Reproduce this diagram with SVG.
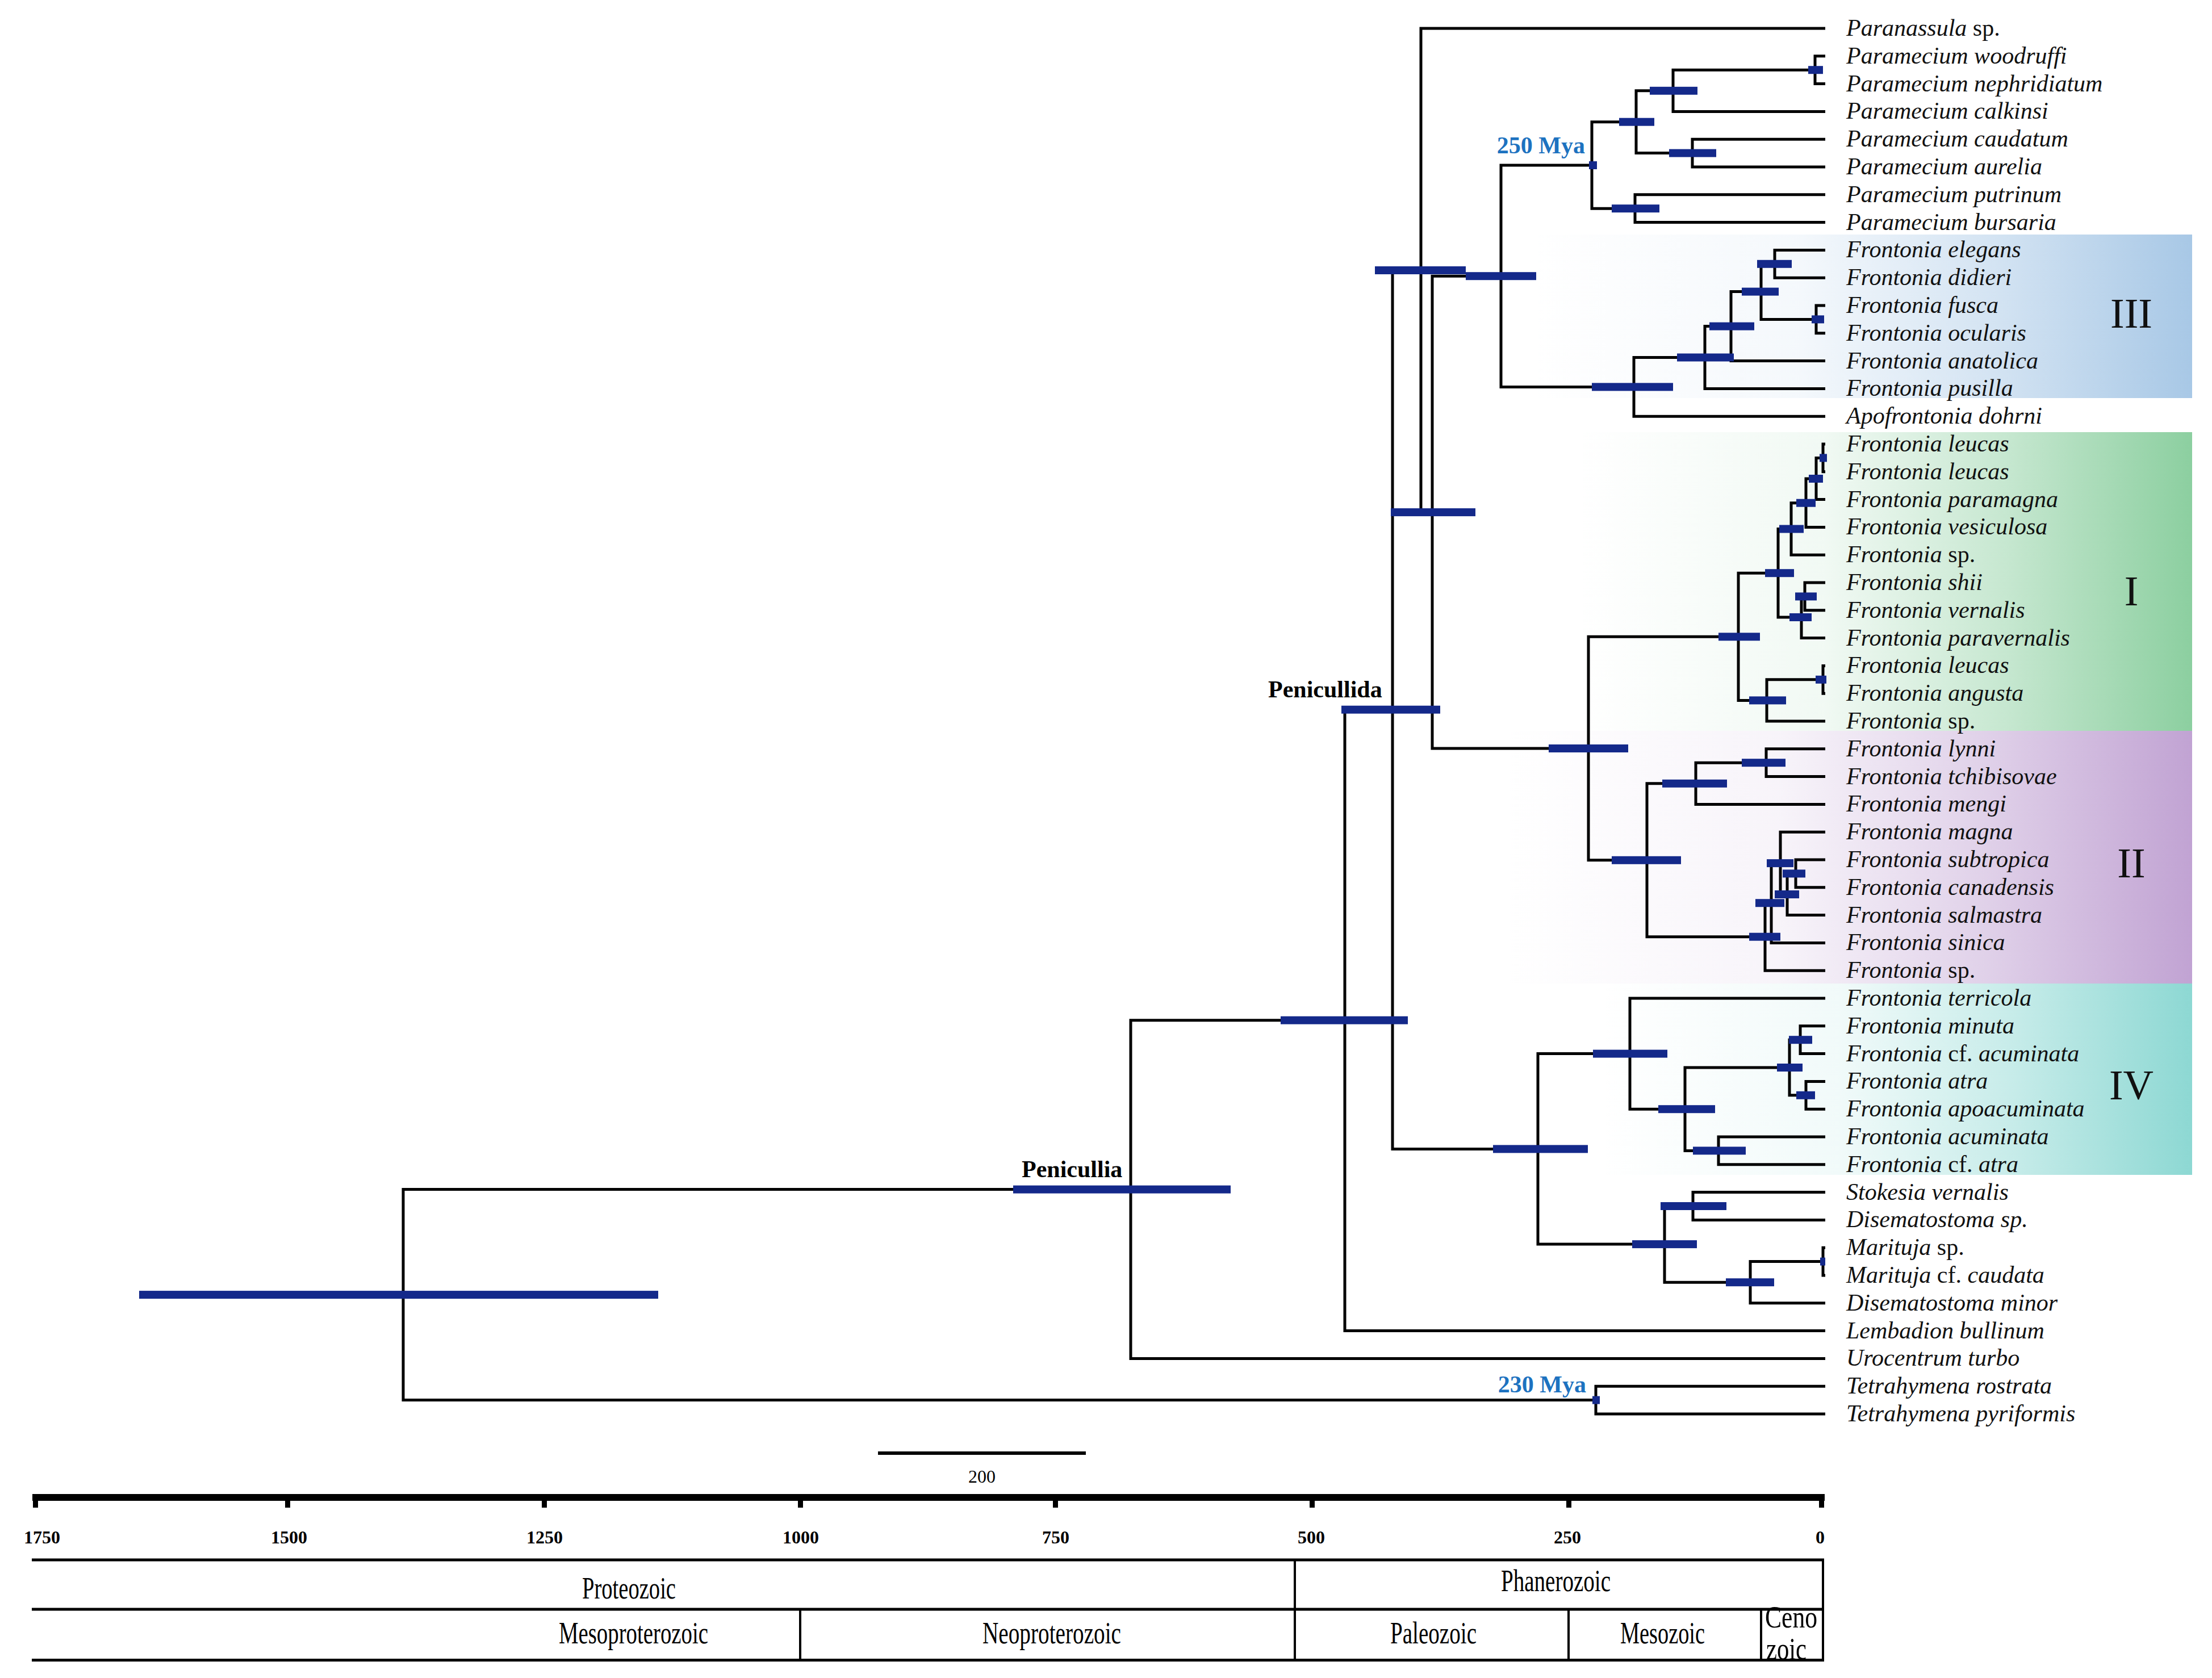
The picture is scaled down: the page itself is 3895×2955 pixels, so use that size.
<svg xmlns="http://www.w3.org/2000/svg" width="3895" height="2955" viewBox="0 0 3895 2955">
<defs>
<linearGradient id="gIII" x1="0" y1="0" x2="1" y2="0"><stop offset="0" stop-color="#a8c8e6" stop-opacity="0"/><stop offset="0.4" stop-color="#a8c8e6" stop-opacity="0.12"/><stop offset="0.7" stop-color="#a8c8e6" stop-opacity="0.5"/><stop offset="1" stop-color="#a8c8e6" stop-opacity="1"/></linearGradient>
<linearGradient id="gI" x1="0" y1="0" x2="1" y2="0"><stop offset="0" stop-color="#8ccfa0" stop-opacity="0"/><stop offset="0.4" stop-color="#8ccfa0" stop-opacity="0.12"/><stop offset="0.7" stop-color="#8ccfa0" stop-opacity="0.5"/><stop offset="1" stop-color="#8ccfa0" stop-opacity="1"/></linearGradient>
<linearGradient id="gII" x1="0" y1="0" x2="1" y2="0"><stop offset="0" stop-color="#c1a3d3" stop-opacity="0"/><stop offset="0.4" stop-color="#c1a3d3" stop-opacity="0.12"/><stop offset="0.7" stop-color="#c1a3d3" stop-opacity="0.5"/><stop offset="1" stop-color="#c1a3d3" stop-opacity="1"/></linearGradient>
<linearGradient id="gIV" x1="0" y1="0" x2="1" y2="0"><stop offset="0" stop-color="#8dd8d3" stop-opacity="0"/><stop offset="0.4" stop-color="#8dd8d3" stop-opacity="0.12"/><stop offset="0.7" stop-color="#8dd8d3" stop-opacity="0.5"/><stop offset="1" stop-color="#8dd8d3" stop-opacity="1"/></linearGradient>
</defs>
<style>
.br{fill:none;stroke:#000;stroke-width:5;stroke-linecap:butt;stroke-linejoin:miter}
.bar{fill:#14298a}
.lab{font-family:"Liberation Serif","Times New Roman",serif;font-size:42px;font-style:italic;fill:#111}
.up{font-style:normal}
.bold{font-family:"Liberation Serif","Times New Roman",serif;font-size:42px;font-weight:bold;fill:#000}
.mya{font-family:"Liberation Serif","Times New Roman",serif;font-size:42px;font-weight:bold;fill:#1d72c0;text-anchor:end}
.clade{font-family:"Liberation Serif","Times New Roman",serif;font-size:74px;fill:#111;text-anchor:middle}
.tick{font-family:"Liberation Serif","Times New Roman",serif;font-size:32px;font-weight:bold;fill:#000;text-anchor:middle}
.per{font-family:"Liberation Serif","Times New Roman",serif;font-size:55px;fill:#000}
.tl{stroke:#000;stroke-width:5;fill:none}
.tv{stroke:#000;stroke-width:4;fill:none}
</style>

<g id="clade-boxes">
<g id="box-III"><rect x="2700" y="413" width="1160" height="288" fill="url(#gIII)"/><text class="clade" x="3753" y="577">III</text></g>
<g id="box-I"><rect x="2780" y="761" width="1080" height="526" fill="url(#gI)"/><text class="clade" x="3753" y="1066">I</text></g>
<g id="box-II"><rect x="2650" y="1287" width="1210" height="445" fill="url(#gII)"/><text class="clade" x="3753" y="1545">II</text></g>
<g id="box-IV"><rect x="2820" y="1732" width="1040" height="337" fill="url(#gIV)"/><text class="clade" x="3753" y="1936">IV</text></g>
</g>

<g id="connectors" class="br">
<path d="M1991,2094.6 H710 V2465.6 H2810"/>
<path d="M2368,1796.7 H1991 V2392.4 H3214"/>
<path d="M2452,1249.7 H2368 V2343.6 H3214"/>
<path d="M2502,476 H2452 V2023.4 H2708"/>
<path d="M3214,50 H2502 V902.1 H2522"/>
<path d="M2643,486.2 H2522 V1318 H2797"/>
<path d="M2803,291 H2643 V681.4 H2877"/>
<path d="M2881,214.7 H2803 V367.2 H2879"/>
<path d="M2946,159.8 H2881 V269.6 H2980"/>
<path d="M3196,123.2 H2946 V196.4 H3214"/>
<path d="M3214,98.8 H3196 V147.6 H3214"/>
<path d="M3214,245.2 H2980 V294 H3214"/>
<path d="M3214,342.8 H2879 V391.6 H3214"/>
<path d="M3002,629.5 H2877 V733.2 H3214"/>
<path d="M3048,574.6 H3002 V684.4 H3214"/>
<path d="M3101,513.6 H3048 V635.6 H3214"/>
<path d="M3125,464.8 H3101 V562.4 H3198"/>
<path d="M3214,440.4 H3125 V489.2 H3214"/>
<path d="M3214,538 H3198 V586.8 H3214"/>
<path d="M3061,1121.3 H2797 V1514.8 H2900"/>
<path d="M3131,1009.2 H3061 V1233.4 H3111"/>
<path d="M3154,931.5 H3131 V1087 H3172"/>
<path d="M3180,885.7 H3154 V977.2 H3214"/>
<path d="M3198,843 H3180 V928.4 H3214"/>
<path d="M3210,806.4 H3198 V879.6 H3214"/>
<path d="M3214,782 H3210 V830.8 H3214"/>
<path d="M3178,1050.4 H3172 V1123.6 H3214"/>
<path d="M3214,1026 H3178 V1074.8 H3214"/>
<path d="M3210,1196.8 H3111 V1270 H3214"/>
<path d="M3214,1172.4 H3210 V1221.2 H3214"/>
<path d="M2986,1379.8 H2900 V1649.7 H3108"/>
<path d="M3110,1343.2 H2986 V1416.4 H3214"/>
<path d="M3214,1318.8 H3110 V1367.6 H3214"/>
<path d="M3119,1590.2 H3108 V1709.2 H3214"/>
<path d="M3135,1520.1 H3119 V1660.4 H3214"/>
<path d="M3214,1465.2 H3135 V1575 H3147"/>
<path d="M3162,1538.4 H3147 V1611.6 H3214"/>
<path d="M3214,1514 H3162 V1562.8 H3214"/>
<path d="M2870,1855.6 H2708 V2191.1 H2931"/>
<path d="M3214,1758 H2870 V1953.2 H2967"/>
<path d="M3151,1880 H2967 V2026.4 H3026"/>
<path d="M3170,1831.2 H3151 V1928.8 H3180"/>
<path d="M3214,1806.8 H3170 V1855.6 H3214"/>
<path d="M3214,1904.4 H3180 V1953.2 H3214"/>
<path d="M3214,2002 H3026 V2050.8 H3214"/>
<path d="M2981,2124 H2931 V2258.2 H3082"/>
<path d="M3214,2099.6 H2981 V2148.4 H3214"/>
<path d="M3210,2221.6 H3082 V2294.8 H3214"/>
<path d="M3214,2197.2 H3210 V2246 H3214"/>
<path d="M3214,2441.2 H2810 V2490 H3214"/>
</g>

<g id="node-bars" class="bar">
<rect id="n-root" x="245" y="2273.1" width="914" height="14"/>
<rect id="n-penicullia" x="1784" y="2087.6" width="383" height="14"/>
<rect id="n-G" x="2255" y="1789.7" width="224" height="14"/>
<rect id="n-penicullida" x="2362" y="1242.7" width="174" height="14"/>
<rect id="n-B" x="2421" y="469" width="160" height="14"/>
<rect id="n-C" x="2449" y="895.1" width="149" height="14"/>
<rect id="n-D" x="2581" y="479.2" width="124" height="14"/>
<rect id="n-P" x="2798" y="284" width="14" height="14"/>
<rect id="n-Q" x="2851" y="207.7" width="62" height="14"/>
<rect id="n-R" x="2838" y="360.2" width="84" height="14"/>
<rect id="n-S" x="2905" y="152.8" width="84" height="14"/>
<rect id="n-T" x="2939" y="262.6" width="83" height="14"/>
<rect id="n-U" x="3184" y="116.2" width="26" height="14"/>
<rect id="n-V" x="2803" y="674.4" width="143" height="14"/>
<rect id="n-W" x="2953" y="622.5" width="100" height="14"/>
<rect id="n-X" x="3010" y="567.6" width="79" height="14"/>
<rect id="n-Y" x="3067" y="506.6" width="65" height="14"/>
<rect id="n-Z" x="3094" y="457.8" width="61" height="14"/>
<rect id="n-AA" x="3190" y="555.4" width="22" height="14"/>
<rect id="n-E" x="2727" y="1311" width="140" height="14"/>
<rect id="n-AB" x="3026" y="1114.3" width="73" height="14"/>
<rect id="n-AD" x="3108" y="1002.2" width="51" height="14"/>
<rect id="n-AF" x="3133" y="924.5" width="43" height="14"/>
<rect id="n-AH" x="3163" y="878.7" width="34" height="14"/>
<rect id="n-AI" x="3185" y="836" width="25" height="14"/>
<rect id="n-AJ" x="3204" y="799.4" width="13" height="14"/>
<rect id="n-AG" x="3151" y="1080" width="39" height="14"/>
<rect id="n-AK" x="3161" y="1043.4" width="38" height="14"/>
<rect id="n-AE" x="3080" y="1226.4" width="65" height="14"/>
<rect id="n-AL" x="3197" y="1189.8" width="19" height="14"/>
<rect id="n-AC" x="2838" y="1507.8" width="122" height="14"/>
<rect id="n-AM" x="2927" y="1372.8" width="114" height="14"/>
<rect id="n-AO" x="3067" y="1336.2" width="77" height="14"/>
<rect id="n-AN" x="3080" y="1642.7" width="55" height="14"/>
<rect id="n-N1" x="3091" y="1583.2" width="51" height="14"/>
<rect id="n-N2" x="3111" y="1513.1" width="47" height="14"/>
<rect id="n-N3" x="3125" y="1568" width="43" height="14"/>
<rect id="n-N4" x="3139" y="1531.4" width="40" height="14"/>
<rect id="n-F" x="2629" y="2016.4" width="167" height="14"/>
<rect id="n-AQ" x="2805" y="1848.6" width="131" height="14"/>
<rect id="n-AS" x="2920" y="1946.2" width="100" height="14"/>
<rect id="n-AT" x="3129" y="1873" width="45" height="14"/>
<rect id="n-AV" x="3150" y="1824.2" width="41" height="14"/>
<rect id="n-AW" x="3163" y="1921.8" width="33" height="14"/>
<rect id="n-AU" x="2981" y="2019.4" width="93" height="14"/>
<rect id="n-AR" x="2874" y="2184.1" width="114" height="14"/>
<rect id="n-AX" x="2924" y="2117" width="116" height="14"/>
<rect id="n-AY" x="3039" y="2251.2" width="85" height="14"/>
<rect id="n-AZ" x="3205" y="2214.6" width="9" height="14"/>
<rect id="n-TT" x="2804" y="2458.6" width="13" height="14"/>
</g>

<g id="node-labels">
<g id="lab-penicullia"><text class="bold" x="1799" y="2073">Penicullia</text></g>
<g id="lab-penicullida"><text class="bold" x="2233" y="1228">Penicullida</text></g>
<g id="lab-250"><text class="mya" x="2791" y="270">250 Mya</text></g>
<g id="lab-230"><text class="mya" x="2793" y="2452">230 Mya</text></g>
</g>

<g id="leaves" class="lab">
<g id="leaf-0"><text x="3251" y="63">Paranassula<tspan class="up"> sp.</tspan></text></g>
<g id="leaf-1"><text x="3251" y="111.8">Paramecium woodruffi</text></g>
<g id="leaf-2"><text x="3251" y="160.6">Paramecium nephridiatum</text></g>
<g id="leaf-3"><text x="3251" y="209.4">Paramecium calkinsi</text></g>
<g id="leaf-4"><text x="3251" y="258.2">Paramecium caudatum</text></g>
<g id="leaf-5"><text x="3251" y="307">Paramecium aurelia</text></g>
<g id="leaf-6"><text x="3251" y="355.8">Paramecium putrinum</text></g>
<g id="leaf-7"><text x="3251" y="404.6">Paramecium bursaria</text></g>
<g id="leaf-8"><text x="3251" y="453.4">Frontonia elegans</text></g>
<g id="leaf-9"><text x="3251" y="502.2">Frontonia didieri</text></g>
<g id="leaf-10"><text x="3251" y="551">Frontonia fusca</text></g>
<g id="leaf-11"><text x="3251" y="599.8">Frontonia ocularis</text></g>
<g id="leaf-12"><text x="3251" y="648.6">Frontonia anatolica</text></g>
<g id="leaf-13"><text x="3251" y="697.4">Frontonia pusilla</text></g>
<g id="leaf-14"><text x="3251" y="746.2">Apofrontonia dohrni</text></g>
<g id="leaf-15"><text x="3251" y="795">Frontonia leucas</text></g>
<g id="leaf-16"><text x="3251" y="843.8">Frontonia leucas</text></g>
<g id="leaf-17"><text x="3251" y="892.6">Frontonia paramagna</text></g>
<g id="leaf-18"><text x="3251" y="941.4">Frontonia vesiculosa</text></g>
<g id="leaf-19"><text x="3251" y="990.2">Frontonia<tspan class="up"> sp.</tspan></text></g>
<g id="leaf-20"><text x="3251" y="1039">Frontonia shii</text></g>
<g id="leaf-21"><text x="3251" y="1087.8">Frontonia vernalis</text></g>
<g id="leaf-22"><text x="3251" y="1136.6">Frontonia paravernalis</text></g>
<g id="leaf-23"><text x="3251" y="1185.4">Frontonia leucas</text></g>
<g id="leaf-24"><text x="3251" y="1234.2">Frontonia angusta</text></g>
<g id="leaf-25"><text x="3251" y="1283">Frontonia<tspan class="up"> sp.</tspan></text></g>
<g id="leaf-26"><text x="3251" y="1331.8">Frontonia lynni</text></g>
<g id="leaf-27"><text x="3251" y="1380.6">Frontonia tchibisovae</text></g>
<g id="leaf-28"><text x="3251" y="1429.4">Frontonia mengi</text></g>
<g id="leaf-29"><text x="3251" y="1478.2">Frontonia magna</text></g>
<g id="leaf-30"><text x="3251" y="1527">Frontonia subtropica</text></g>
<g id="leaf-31"><text x="3251" y="1575.8">Frontonia canadensis</text></g>
<g id="leaf-32"><text x="3251" y="1624.6">Frontonia salmastra</text></g>
<g id="leaf-33"><text x="3251" y="1673.4">Frontonia sinica</text></g>
<g id="leaf-34"><text x="3251" y="1722.2">Frontonia<tspan class="up"> sp.</tspan></text></g>
<g id="leaf-35"><text x="3251" y="1771">Frontonia terricola</text></g>
<g id="leaf-36"><text x="3251" y="1819.8">Frontonia minuta</text></g>
<g id="leaf-37"><text x="3251" y="1868.6">Frontonia <tspan class="up">cf.</tspan> acuminata</text></g>
<g id="leaf-38"><text x="3251" y="1917.4">Frontonia atra</text></g>
<g id="leaf-39"><text x="3251" y="1966.2">Frontonia apoacuminata</text></g>
<g id="leaf-40"><text x="3251" y="2015">Frontonia acuminata</text></g>
<g id="leaf-41"><text x="3251" y="2063.8">Frontonia <tspan class="up">cf.</tspan> atra</text></g>
<g id="leaf-42"><text x="3251" y="2112.6">Stokesia vernalis</text></g>
<g id="leaf-43"><text x="3251" y="2161.4">Disematostoma sp.</text></g>
<g id="leaf-44"><text x="3251" y="2210.2">Marituja<tspan class="up"> sp.</tspan></text></g>
<g id="leaf-45"><text x="3251" y="2259">Marituja <tspan class="up">cf.</tspan> caudata</text></g>
<g id="leaf-46"><text x="3251" y="2307.8">Disematostoma minor</text></g>
<g id="leaf-47"><text x="3251" y="2356.6">Lembadion bullinum</text></g>
<g id="leaf-48"><text x="3251" y="2405.4">Urocentrum turbo</text></g>
<g id="leaf-49"><text x="3251" y="2454.2">Tetrahymena rostrata</text></g>
<g id="leaf-50"><text x="3251" y="2503">Tetrahymena pyriformis</text></g>
</g>

<g id="scale-bar">
<line x1="1546" y1="2559" x2="1912" y2="2559" stroke="#000" stroke-width="6"/>
<text x="1729" y="2611" font-family="Liberation Serif, Times New Roman, serif" font-size="32" text-anchor="middle" fill="#000">200</text>
</g>

<g id="time-axis">
<rect x="57" y="2631" width="3156" height="12" fill="#000"/>
<g fill="#000">
<rect x="58" y="2640" width="9" height="15"/>
<rect x="502" y="2640" width="9" height="15"/>
<rect x="954" y="2640" width="9" height="15"/>
<rect x="1405" y="2640" width="9" height="15"/>
<rect x="1854" y="2640" width="9" height="15"/>
<rect x="2306" y="2640" width="9" height="15"/>
<rect x="2758" y="2640" width="9" height="15"/>
<rect x="3203" y="2640" width="9" height="15"/>
</g>
<text class="tick" x="74" y="2718">1750</text>
<text class="tick" x="509" y="2718">1500</text>
<text class="tick" x="959" y="2718">1250</text>
<text class="tick" x="1410" y="2718">1000</text>
<text class="tick" x="1859" y="2718">750</text>
<text class="tick" x="2309" y="2718">500</text>
<text class="tick" x="2760" y="2718">250</text>
<text class="tick" x="3205" y="2718">0</text>
</g>

<g id="geo-table">
<text class="per" x="1025" y="2815" textLength="165" lengthAdjust="spacingAndGlyphs">Proteozoic</text>
<text class="per" x="2643" y="2802" textLength="193" lengthAdjust="spacingAndGlyphs">Phanerozoic</text>
<text class="per" x="984" y="2894" textLength="263" lengthAdjust="spacingAndGlyphs">Mesoproterozoic</text>
<text class="per" x="1730" y="2894" textLength="244" lengthAdjust="spacingAndGlyphs">Neoproterozoic</text>
<text class="per" x="2448" y="2894" textLength="152" lengthAdjust="spacingAndGlyphs">Paleozoic</text>
<text class="per" x="2853" y="2894" textLength="149" lengthAdjust="spacingAndGlyphs">Mesozoic</text>
<text class="per" x="3108" y="2866" font-size="46" textLength="92" lengthAdjust="spacingAndGlyphs">Ceno</text>
<text class="per" x="3110" y="2922" font-size="46" textLength="71" lengthAdjust="spacingAndGlyphs">zoic</text>
<line class="tl" x1="56" y1="2747" x2="3212" y2="2747"/>
<line class="tl" x1="56" y1="2834" x2="3212" y2="2834"/>
<line class="tl" x1="56" y1="2923.5" x2="3212" y2="2923.5"/>
<line class="tv" x1="2280" y1="2747" x2="2280" y2="2923"/>
<line class="tv" x1="3210" y1="2747" x2="3210" y2="2923"/>
<line class="tv" x1="1409" y1="2834" x2="1409" y2="2923"/>
<line class="tv" x1="2762" y1="2834" x2="2762" y2="2923"/>
<line class="tv" x1="3101" y1="2834" x2="3101" y2="2923"/>
</g>
</svg>
